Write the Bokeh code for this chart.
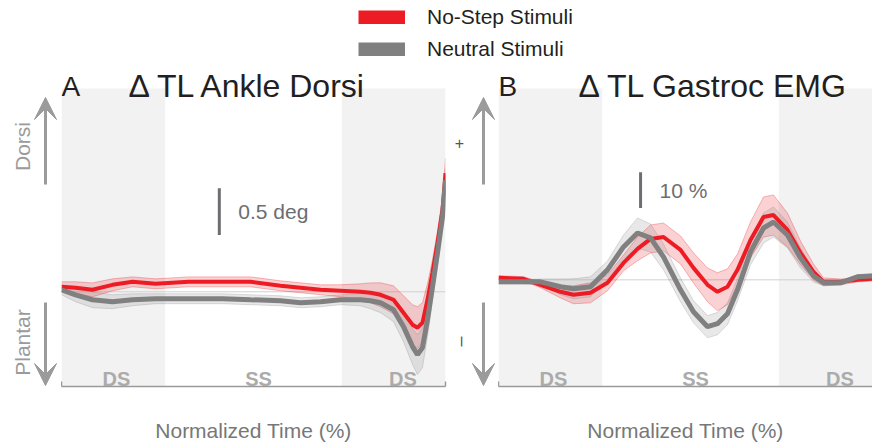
from bokeh.plotting import figure
from bokeh.models import (BoxAnnotation, Label, Arrow, VeeHead, Legend, LegendItem,
                          FixedTicker, Range1d)
from bokeh.layouts import column, row
from bokeh.embed import file_html
from bokeh.resources import INLINE

FONT = "Liberation Sans"
RED = "#ed1c24"
GRAY = "#808080"
ARROW_C = "#9b9b9b"

# ---------------- data ----------------
series_names = ["No-Step Stimuli", "Neutral Stimuli"]

# Panel A : delta TL ankle dorsiflexion (deg)
a_time = [0, 3.65, 8.07, 13.28, 18.49, 24.48, 33.07, 41.93, 49.22, 57.03, 62.24, 67.45,
          72.66, 77.86, 80.47, 83.07, 86.46, 89.06, 91.41, 92.71, 94.01, 95.31, 96.61,
          97.92, 99.22, 100]
a_nostep = [0.053, 0.043, 0.021, 0.074, 0.106, 0.085, 0.106, 0.106, 0.106, 0.064, 0.043,
            0.021, 0.011, 0.0, -0.011, -0.032, -0.085, -0.223, -0.351, -0.383, -0.330,
            -0.085, 0.202, 0.521, 0.872, 1.266]
a_nostep_ci = [0.053, 0.064, 0.074, 0.064, 0.053, 0.053, 0.053, 0.053, 0.053, 0.053, 0.053,
               0.053, 0.064, 0.085, 0.106, 0.128, 0.149, 0.181, 0.213, 0.223, 0.213, 0.170,
               0.138, 0.128, 0.138, 0.160]
a_neutral = [0.021, -0.032, -0.085, -0.106, -0.085, -0.074, -0.074, -0.074, -0.085, -0.096,
             -0.117, -0.106, -0.085, -0.085, -0.096, -0.117, -0.191, -0.372, -0.585, -0.670,
             -0.596, -0.298, 0.053, 0.415, 0.798, 1.191]
a_neutral_ci = [0.053, 0.074, 0.085, 0.074, 0.064, 0.053, 0.053, 0.053, 0.053, 0.053, 0.053,
                0.053, 0.053, 0.064, 0.085, 0.106, 0.128, 0.160, 0.191, 0.213, 0.213, 0.181,
                0.149, 0.128, 0.128, 0.128]

# Panel B : delta TL gastrocnemius EMG (%)
b_time = [0, 6.51, 10.94, 16.15, 19.53, 23.96, 28.39, 32.55, 36.2, 39.58, 42.97, 47.4,
          50.78, 54.43, 57.03, 59.64, 62.24, 65.63, 69.01, 71.61, 75.26, 78.65, 82.03,
          84.64, 89.06, 93.49, 97.4]
b_nostep = [0.56, 0.28, -1.39, -3.33, -4.17, -3.61, -0.83, 4.72, 8.61, 11.39, 11.94, 8.33,
            3.33, -1.39, -3.33, -1.94, 2.78, 11.11, 17.5, 18.06, 13.89, 7.5, 2.22, -0.56,
            -0.56, 0.0, 0.28]
b_nostep_ci = [0.6, 0.6, 0.8, 1.7, 2.5, 2.8, 2.2, 2.2, 3.3, 3.9, 3.9, 3.9, 4.2, 4.7, 5.3,
               5.0, 4.4, 5.0, 5.6, 5.6, 4.7, 3.3, 2.2, 1.1, 0.8, 0.6, 0.6]
b_neutral = [-0.56, -0.56, -0.56, -1.94, -2.5, -1.94, 2.78, 9.17, 13.06, 11.67, 6.39, -2.78,
             -8.89, -13.06, -12.22, -9.44, -2.78, 7.78, 14.44, 16.11, 12.5, 6.11, 1.11, -0.83,
             -0.83, 0.83, 1.11]
b_neutral_ci = [0.6, 0.6, 0.8, 2.2, 2.8, 2.8, 2.5, 3.3, 4.2, 3.9, 3.6, 3.3, 3.1, 3.1, 3.1,
                3.1, 3.1, 3.6, 4.2, 4.2, 3.6, 2.8, 1.7, 0.8, 0.6, 0.6, 0.6]

# gait phases (% of normalized time)
phase_edges = [0, 27, 73, 100]
phase_names = ["DS", "SS", "DS"]
phase_label_x = [14.3, 51.3, 88.9]

# ---------------- layout constants ----------------
LEGEND_H = 64
PANEL_H = 380
BOTTOM = 57   # room under the time axis


def band(p, x, m, ci, color, fill_alpha, edge_alpha):
    lo = [a - b for a, b in zip(m, ci)]
    hi = [a + b for a, b in zip(m, ci)]
    p.varea(x=x, y1=lo, y2=hi, fill_color=color, fill_alpha=fill_alpha)
    p.line(x=x, y=lo, line_color=color, line_alpha=edge_alpha, line_width=1)
    p.line(x=x, y=hi, line_color=color, line_alpha=edge_alpha, line_width=1)


def slabel(p, x, y, text, size, color, angle=0, baseline="middle", align="center",
           style="normal"):
    p.add_layout(Label(x=x, y=y, x_units="screen", y_units="screen", text=text,
                       angle=angle, angle_units="deg", text_font=FONT,
                       text_font_size=size, text_color=color, text_align=align,
                       text_baseline=baseline, text_font_style=style))


def arrow(p, x, y0, y1):
    p.add_layout(Arrow(end=VeeHead(size=22, fill_color=ARROW_C, line_color=ARROW_C),
                       x_start=x, y_start=y0, x_end=x, y_end=y1,
                       start_units="screen", end_units="screen",
                       line_color=ARROW_C, line_width=3))


def strip(width, kind):
    # narrow strip left of a panel; its frame is aligned with the panel frame
    s = figure(width=width, height=PANEL_H, x_range=Range1d(0, 1), y_range=Range1d(0, 1),
               title=None, toolbar_location=None, output_backend="svg",
               x_axis_location=None, y_axis_location=None, min_border=0,
               min_border_bottom=BOTTOM, outline_line_color=None)
    s.grid.visible = False
    if kind == "A":
        arrow(s, 45, 202, 289)
        arrow(s, 45, 84, 1)
        slabel(s, 22, 240, "Dorsi", "21px", ARROW_C, angle=90)
        slabel(s, 22, 44, "Plantar", "21px", ARROW_C, angle=90)
    else:
        arrow(s, 33, 202, 289)
        arrow(s, 33, 84, 1)
        slabel(s, 9, 244, "+", "16px", "#555555")
        slabel(s, 9, 45, "\u2013", "18px", "#555555", angle=90)
    return s


def panel(letter, title, title_x, x, red, red_ci, gray, gray_ci, xrange, yrange, shade_top,
          bar, bar_text, width, border_right):
    p = figure(width=width, height=PANEL_H, x_range=Range1d(*xrange),
               y_range=Range1d(*yrange), title=None, toolbar_location=None,
               output_backend="svg", y_axis_location=None, min_border_left=0,
               min_border_right=border_right, min_border_top=0, min_border_bottom=BOTTOM,
               outline_line_color=None)
    p.grid.visible = False
    xmax = min(100, xrange[1])
    # shaded double support phases
    for i, nm in enumerate(phase_names):
        if nm == "DS":
            p.add_layout(BoxAnnotation(left=phase_edges[i], right=phase_edges[i + 1],
                                       top=shade_top, fill_color="#f2f2f2", fill_alpha=1.0,
                                       line_color=None, level="underlay"))
    # zero reference line
    p.segment(x0=[0], y0=[0], x1=[xmax], y1=[0], line_color="#d0d0d0", line_width=1)
    band(p, x, red, red_ci, RED, 0.2, 0.3)
    band(p, x, gray, gray_ci, GRAY, 0.18, 0.25)
    p.line(x=x, y=red, line_color=RED, line_width=4)
    p.line(x=x, y=gray, line_color=GRAY, line_width=5)

    # scale bar
    bx, by, blen = bar
    p.segment(x0=[bx], y0=[by], x1=[bx], y1=[by + blen], line_color="#6d6e71", line_width=3)
    p.add_layout(Label(x=bx, y=by + blen / 2, text=bar_text, x_offset=19, text_align="left",
                       text_baseline="middle", text_font=FONT, text_font_size="21px",
                       text_color="#6d6e71"))

    # phase labels
    for nm, lx in zip(phase_names, phase_label_x):
        if lx < xrange[1]:
            p.add_layout(Label(x=lx, y=7.5, y_units="screen", text=nm, text_align="center",
                               text_baseline="alphabetic", text_font=FONT,
                               text_font_size="20px", text_font_style="bold",
                               text_color="#ababab"))

    # time axis
    ax = p.xaxis[0]
    ax.bounds = (0, 100)
    ax.ticker = FixedTicker(ticks=[0, 100])
    ax.major_label_overrides = {0: "", 100: ""}
    ax.major_tick_in = 5
    ax.major_tick_out = 0
    ax.minor_tick_line_color = None
    ax.axis_line_color = "#9a9a9a"
    ax.axis_line_width = 1.5
    ax.major_tick_line_color = "#9a9a9a"
    ax.major_tick_line_width = 1.5
    ax.major_label_text_font_size = "0px"
    ax.major_label_standoff = 0
    ax.axis_label = "Normalized Time (%)"
    ax.axis_label_text_font = FONT
    ax.axis_label_text_font_size = "21px"
    ax.axis_label_text_font_style = "normal"
    ax.axis_label_text_color = "#777777"
    ax.axis_label_standoff = 32

    # titles (frame-relative pixels above the time axis)
    slabel(p, 0, 300.5, letter, "28px", "#231f20", baseline="alphabetic", align="left")
    slabel(p, title_x, 300.5, title, "32px", "#231f20", baseline="alphabetic", align="left")
    return p


# 3.84 px per % time; panel A 94 px per deg, panel B 3.6 px per %
pa = panel("A", "\u0394 TL Ankle Dorsi", 67, a_time, a_nostep, a_nostep_ci, a_neutral,
           a_neutral_ci, (0, 100), (-1.011, 2.426), 2.170, (41.1, 0.606, 0.5),
           "0.5 deg", 389, 5)
pb = panel("B", "\u0394 TL Gastroc EMG", 80, b_time, b_nostep, b_nostep_ci, b_neutral,
           b_neutral_ci, (0, 97.4), (-29.72, 60.0), 53.33, (37.0, 20.0, 10.0),
           "10 %", 374, 0)
sa = strip(61, "A")
sb = strip(48, "B")

# legend strip
pl = figure(width=872, height=LEGEND_H, x_range=Range1d(0, 1), y_range=Range1d(0, 1),
            title=None, toolbar_location=None, output_backend="svg", x_axis_location=None,
            y_axis_location=None, min_border=0, outline_line_color=None)
pl.grid.visible = False
r1 = pl.line(x=[5, 6], y=[5, 6], line_color=RED, line_width=14)
r2 = pl.line(x=[5, 6], y=[5, 6], line_color=GRAY, line_width=14)
leg = Legend(items=[LegendItem(label=series_names[0], renderers=[r1]),
                    LegendItem(label=series_names[1], renderers=[r2])],
             location=(358, 3), orientation="vertical", glyph_width=47, glyph_height=14,
             label_standoff=22, label_text_font=FONT, label_text_font_size="21px",
             label_text_color="#231f20", label_height=20, spacing=8, padding=0, margin=0,
             border_line_color=None, background_fill_alpha=0)
pl.add_layout(leg)

layout = column(pl, row(sa, pa, sb, pb))
open("out.html", "w").write(file_html(layout, INLINE))
